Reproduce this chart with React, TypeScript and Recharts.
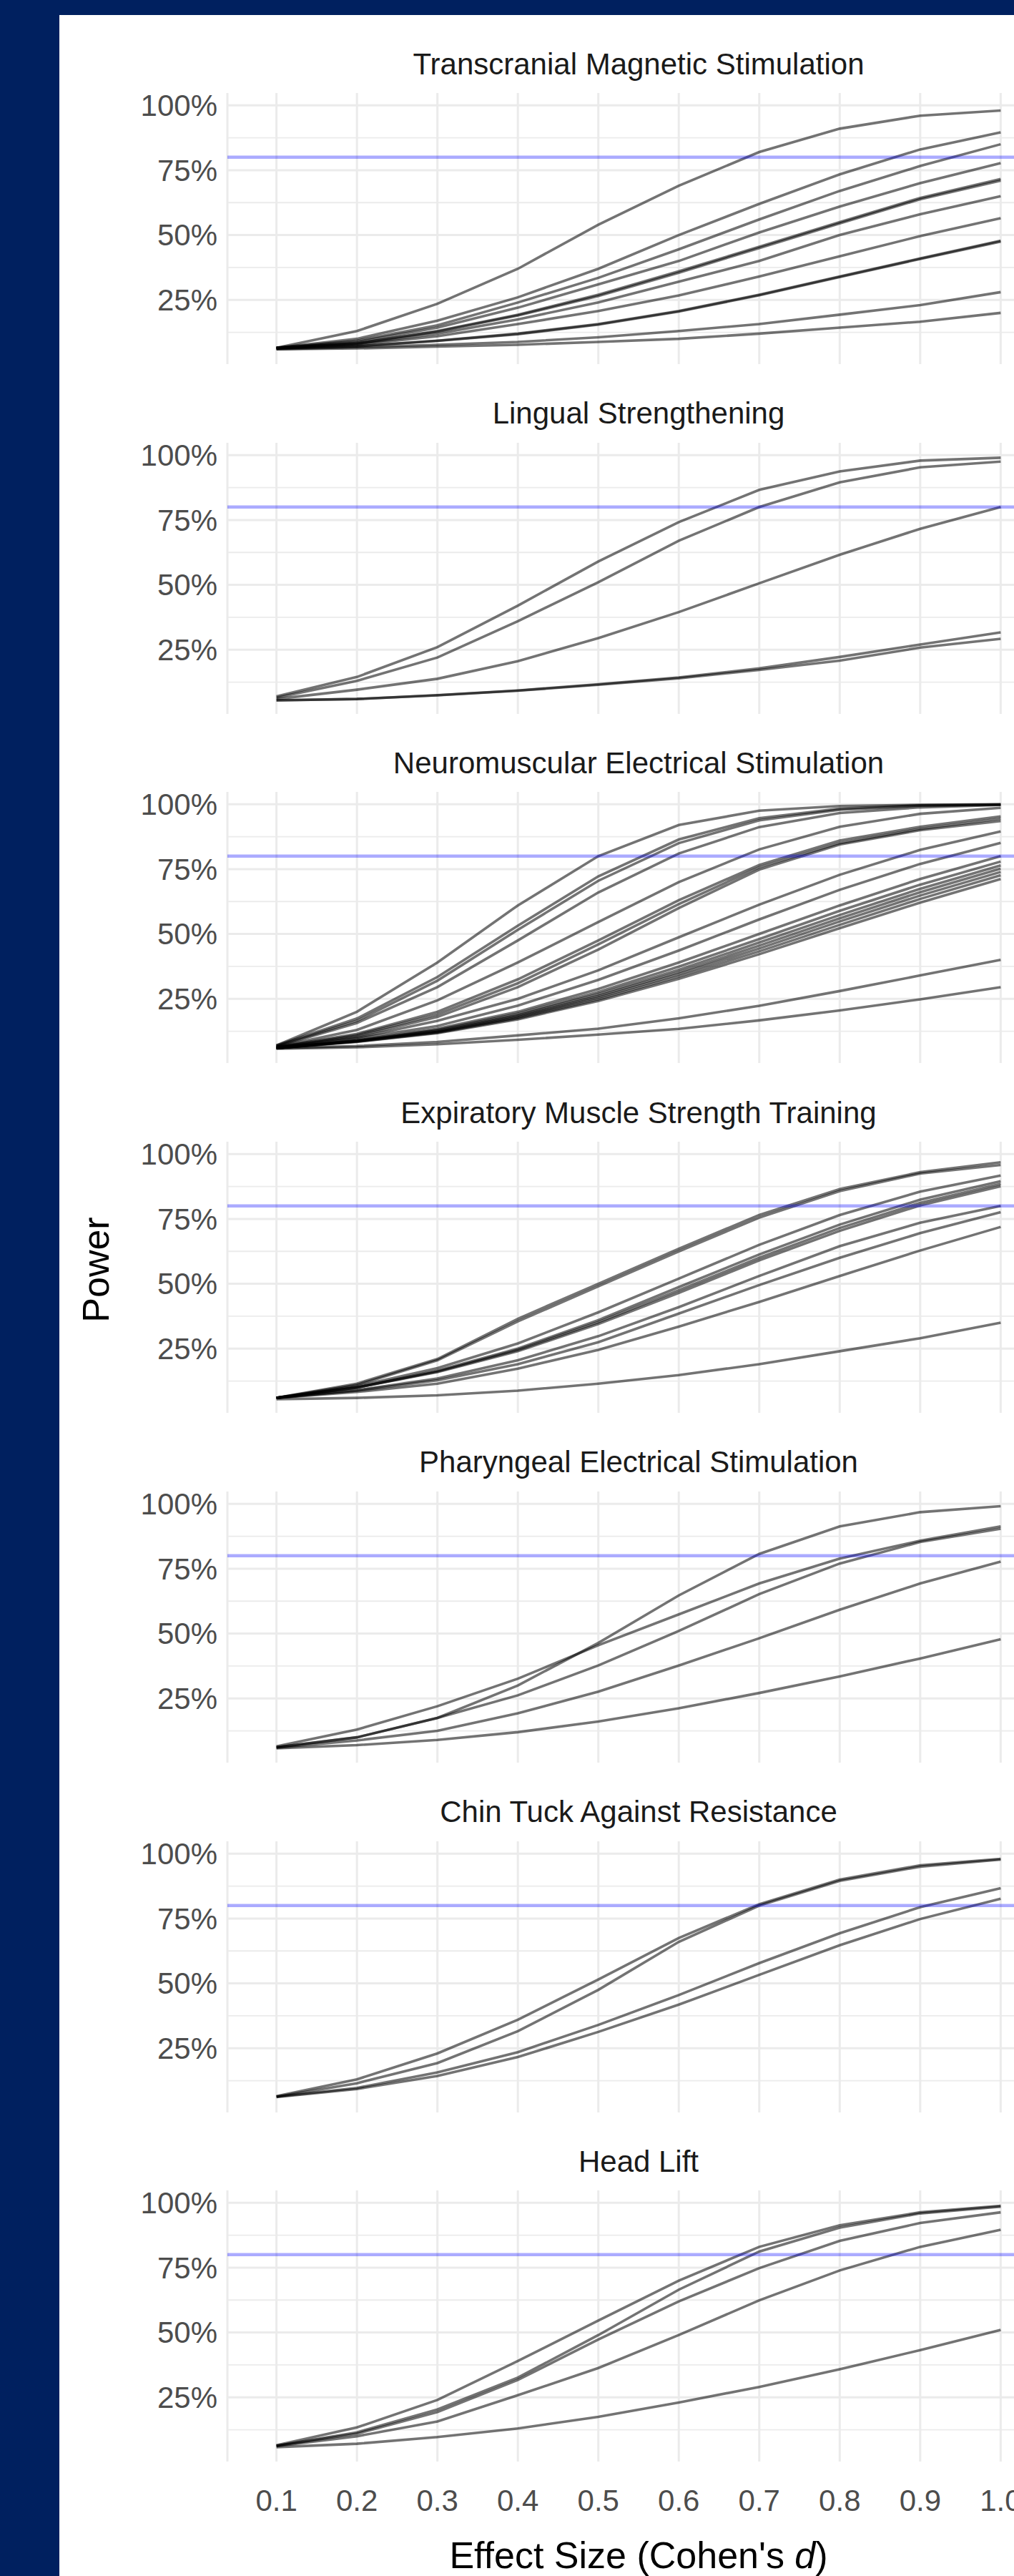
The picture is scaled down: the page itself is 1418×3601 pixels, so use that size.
import React from "react";
import { LineChart, Line, XAxis, YAxis, CartesianGrid, ReferenceLine } from "recharts";

const effectSizes = [0.1, 0.2, 0.3, 0.4, 0.5, 0.6, 0.7, 0.8, 0.9, 1.0];

const tmsPower = [
  [0.065, 0.13, 0.235, 0.37, 0.54, 0.69, 0.82, 0.91, 0.96, 0.98],
  [0.065, 0.1, 0.17, 0.26, 0.37, 0.5, 0.62, 0.734, 0.83, 0.896],
  [0.065, 0.093, 0.152, 0.24, 0.335, 0.445, 0.56, 0.67, 0.766, 0.85],
  [0.065, 0.088, 0.143, 0.22, 0.31, 0.4, 0.51, 0.61, 0.7, 0.777],
  [0.065, 0.083, 0.13, 0.193, 0.27, 0.36, 0.455, 0.55, 0.643, 0.716],
  [0.064, 0.082, 0.128, 0.19, 0.265, 0.355, 0.45, 0.545, 0.638, 0.71],
  [0.065, 0.08, 0.12, 0.175, 0.24, 0.32, 0.4, 0.5, 0.58, 0.65],
  [0.064, 0.077, 0.11, 0.157, 0.207, 0.267, 0.34, 0.418, 0.496, 0.565],
  [0.063, 0.072, 0.093, 0.12, 0.157, 0.207, 0.27, 0.34, 0.41, 0.478],
  [0.063, 0.071, 0.092, 0.118, 0.155, 0.205, 0.268, 0.338, 0.408, 0.475],
  [0.06, 0.068, 0.077, 0.088, 0.106, 0.13, 0.157, 0.193, 0.23, 0.28],
  [0.06, 0.063, 0.07, 0.077, 0.088, 0.1, 0.12, 0.143, 0.166, 0.2],
];

const lingualPower = [
  [0.07, 0.145, 0.26, 0.42, 0.59, 0.742, 0.866, 0.937, 0.979, 0.99],
  [0.065, 0.13, 0.22, 0.36, 0.51, 0.67, 0.8, 0.895, 0.953, 0.975],
  [0.06, 0.096, 0.138, 0.206, 0.295, 0.395, 0.506, 0.616, 0.716, 0.8],
  [0.055, 0.06, 0.075, 0.093, 0.117, 0.143, 0.178, 0.222, 0.27, 0.317],
  [0.055, 0.06, 0.074, 0.092, 0.115, 0.14, 0.172, 0.208, 0.258, 0.292],
];

const nmesPower = [
  [0.07, 0.2, 0.39, 0.61, 0.8, 0.92, 0.975, 0.993, 0.998, 1.0],
  [0.07, 0.174, 0.334, 0.532, 0.722, 0.864, 0.946, 0.983, 0.996, 0.999],
  [0.068, 0.165, 0.32, 0.516, 0.705, 0.85, 0.938, 0.979, 0.994, 0.998],
  [0.066, 0.157, 0.295, 0.475, 0.66, 0.81, 0.912, 0.966, 0.988, 0.997],
  [0.065, 0.13, 0.244, 0.39, 0.546, 0.7, 0.826, 0.913, 0.963, 0.986],
  [0.064, 0.115, 0.2, 0.325, 0.475, 0.63, 0.766, 0.86, 0.913, 0.953],
  [0.063, 0.11, 0.19, 0.31, 0.46, 0.615, 0.757, 0.85, 0.905, 0.944],
  [0.063, 0.105, 0.18, 0.295, 0.44, 0.6, 0.748, 0.845, 0.9, 0.935],
  [0.062, 0.1, 0.165, 0.25, 0.36, 0.487, 0.613, 0.728, 0.824, 0.895],
  [0.062, 0.097, 0.145, 0.224, 0.323, 0.436, 0.556, 0.67, 0.77, 0.851],
  [0.06, 0.09, 0.135, 0.2, 0.288, 0.39, 0.5, 0.61, 0.712, 0.8],
  [0.06, 0.089, 0.13, 0.193, 0.276, 0.374, 0.48, 0.589, 0.69, 0.779],
  [0.06, 0.088, 0.127, 0.187, 0.268, 0.362, 0.467, 0.573, 0.674, 0.764],
  [0.06, 0.087, 0.124, 0.183, 0.261, 0.353, 0.455, 0.56, 0.661, 0.752],
  [0.06, 0.086, 0.122, 0.179, 0.255, 0.345, 0.444, 0.548, 0.648, 0.739],
  [0.06, 0.085, 0.12, 0.175, 0.248, 0.336, 0.433, 0.535, 0.635, 0.726],
  [0.06, 0.084, 0.118, 0.171, 0.242, 0.327, 0.422, 0.522, 0.621, 0.712],
  [0.06, 0.068, 0.084, 0.109, 0.135, 0.175, 0.223, 0.28, 0.34, 0.4],
  [0.058, 0.063, 0.075, 0.092, 0.112, 0.134, 0.167, 0.205, 0.248, 0.295],
];

const emstPower = [
  [0.06, 0.115, 0.21, 0.365, 0.5, 0.635, 0.765, 0.865, 0.93, 0.968],
  [0.06, 0.11, 0.205, 0.355, 0.49, 0.625, 0.755, 0.857, 0.925, 0.958],
  [0.06, 0.105, 0.175, 0.27, 0.39, 0.52, 0.65, 0.765, 0.855, 0.917],
  [0.06, 0.1, 0.165, 0.25, 0.36, 0.487, 0.613, 0.728, 0.824, 0.895],
  [0.06, 0.1, 0.162, 0.245, 0.352, 0.475, 0.6, 0.715, 0.812, 0.885],
  [0.06, 0.1, 0.16, 0.24, 0.345, 0.465, 0.59, 0.704, 0.802, 0.876],
  [0.06, 0.09, 0.135, 0.205, 0.298, 0.41, 0.53, 0.645, 0.735, 0.8],
  [0.06, 0.088, 0.128, 0.19, 0.275, 0.385, 0.495, 0.6, 0.695, 0.776],
  [0.06, 0.083, 0.115, 0.173, 0.245, 0.335, 0.43, 0.53, 0.628, 0.719],
  [0.055, 0.06, 0.07, 0.088, 0.115, 0.148, 0.19, 0.24, 0.29, 0.35],
];

const pesPower = [
  [0.062, 0.1, 0.175, 0.3, 0.464, 0.647, 0.807, 0.913, 0.968, 0.991],
  [0.065, 0.13, 0.22, 0.326, 0.455, 0.574, 0.693, 0.789, 0.858, 0.913],
  [0.062, 0.1, 0.175, 0.262, 0.377, 0.51, 0.652, 0.77, 0.853, 0.904],
  [0.06, 0.088, 0.125, 0.193, 0.276, 0.377, 0.482, 0.592, 0.693, 0.777],
  [0.058, 0.07, 0.09, 0.12, 0.161, 0.212, 0.271, 0.335, 0.404, 0.478],
];

const ctarPower = [
  [0.065, 0.13, 0.23, 0.36, 0.515, 0.675, 0.805, 0.9, 0.955, 0.98],
  [0.063, 0.115, 0.193, 0.316, 0.475, 0.66, 0.8, 0.895, 0.95, 0.977],
  [0.063, 0.097, 0.157, 0.235, 0.34, 0.455, 0.578, 0.693, 0.794, 0.867],
  [0.062, 0.093, 0.143, 0.216, 0.313, 0.418, 0.533, 0.647, 0.748, 0.826],
];

const headLiftPower = [
  [0.065, 0.134, 0.24, 0.39, 0.546, 0.7, 0.83, 0.913, 0.963, 0.988],
  [0.063, 0.115, 0.203, 0.326, 0.49, 0.665, 0.812, 0.904, 0.959, 0.985],
  [0.063, 0.11, 0.193, 0.317, 0.473, 0.62, 0.748, 0.853, 0.922, 0.963],
  [0.062, 0.1, 0.157, 0.258, 0.363, 0.49, 0.624, 0.739, 0.83, 0.896],
  [0.058, 0.071, 0.097, 0.13, 0.175, 0.23, 0.29, 0.358, 0.432, 0.51],
];

const facetTitles = [
  "Transcranial Magnetic Stimulation",
  "Lingual Strengthening",
  "Neuromuscular Electrical Stimulation",
  "Expiratory Muscle Strength Training",
  "Pharyngeal Electrical Stimulation",
  "Chin Tuck Against Resistance",
  "Head Lift",
];
const facetPower = [tmsPower, lingualPower, nmesPower, emstPower, pesPower, ctarPower, headLiftPower];

const powerTicks = [0.25, 0.5, 0.75, 1];
const minorPowerTicks = [0.125, 0.375, 0.625, 0.875];
const targetPower = 0.8;

const NAVY = "#00205f";
const GRID = "#ebebeb";
const FONT = "'Liberation Sans', Arial, Helvetica, sans-serif";

const PANEL_TOP = 130;
const FACET_STEP = 488.7;
const PANEL_H = 379;
const PLOT_LEFT = 318;
const PLOT_RIGHT = 1468;
const CHART_W = 1480;
const PAD_TOP = 10;

type FacetProps = { title: string; series: number[][]; index: number; last: boolean };

const Facet = ({ title, series, index, last }: FacetProps) => {
  const rows = effectSizes.map((d, i) => {
    const row: Record<string, number> = { d };
    series.forEach((s, j) => {
      row[`s${j}`] = s[i];
    });
    return row;
  });
  const top = PANEL_TOP + index * FACET_STEP;
  const axisH = last ? 100 : 0;

  return (
    <>
      <div
        style={{
          position: "absolute",
          left: PLOT_LEFT,
          width: PLOT_RIGHT - PLOT_LEFT,
          top: top - 61.5,
          fontSize: 42,
          lineHeight: "42px",
          color: "#1a1a1a",
          textAlign: "center",
          whiteSpace: "nowrap",
        }}
      >
        {title}
      </div>
      <div style={{ position: "absolute", left: 0, top: top - PAD_TOP }}>
        <LineChart
          width={CHART_W}
          height={PAD_TOP + PANEL_H + axisH}
          data={rows}
          margin={{ top: PAD_TOP, right: CHART_W - PLOT_RIGHT, bottom: 0, left: 0 }}
        >
          <CartesianGrid
            stroke={GRID}
            strokeWidth={1.8}
            vertical={false}
            horizontalValues={minorPowerTicks}
          />
          <CartesianGrid stroke={GRID} strokeWidth={3} horizontalValues={powerTicks} />
          <XAxis
            type="number"
            dataKey="d"
            domain={[0.039, 1.061]}
            ticks={effectSizes}
            interval={0}
            hide={!last}
            height={axisH}
            axisLine={false}
            tickLine={false}
            tickSize={0}
            tickMargin={39}
            tick={{ fontSize: 42, fill: "#4d4d4d" }}
            tickFormatter={(v: number) => v.toFixed(1)}
          />
          <YAxis
            type="number"
            domain={[0.0025, 1.0475]}
            ticks={powerTicks}
            width={PLOT_LEFT}
            axisLine={false}
            tickLine={false}
            tickSize={0}
            tickMargin={14}
            tick={{ fontSize: 42, fill: "#4d4d4d" }}
            tickFormatter={(v: number) => `${Math.round(v * 100)}%`}
          />
          {series.map((_, j) => (
            <Line
              key={j}
              type="linear"
              dataKey={`s${j}`}
              stroke="#000"
              strokeOpacity={0.55}
              strokeWidth={3.6}
              dot={false}
              activeDot={false}
              isAnimationActive={false}
            />
          ))}
          <ReferenceLine y={targetPower} stroke="#0000ff" strokeOpacity={0.33} strokeWidth={4.5} />
        </LineChart>
      </div>
    </>
  );
};

const App = () => {
  return (
    <div
      style={{
        position: "absolute",
        left: 0,
        top: 0,
        width: 1418,
        height: 3601,
        overflow: "hidden",
        background: NAVY,
        fontFamily: FONT,
      }}
    >
      <div style={{ position: "absolute", left: 83, top: 21, right: 0, bottom: 0, background: "#fff" }} />
      {facetTitles.map((title, i) => (
        <Facet
          key={title}
          title={title}
          series={facetPower[i]}
          index={i}
          last={i === facetTitles.length - 1}
        />
      ))}
      <div
        style={{
          position: "absolute",
          left: 134 - 150,
          top: 1775 - 26,
          width: 300,
          height: 52,
          fontSize: 52,
          lineHeight: "52px",
          textAlign: "center",
          color: "#000",
          transform: "rotate(-90deg)",
        }}
      >
        Power
      </div>
      <div
        style={{
          position: "absolute",
          left: PLOT_LEFT,
          width: PLOT_RIGHT - PLOT_LEFT,
          top: 3546,
          fontSize: 52,
          lineHeight: "52px",
          textAlign: "center",
          color: "#000",
          whiteSpace: "nowrap",
        }}
      >
        Effect Size (Cohen's <i>d</i>)
      </div>
    </div>
  );
};

export default App;
